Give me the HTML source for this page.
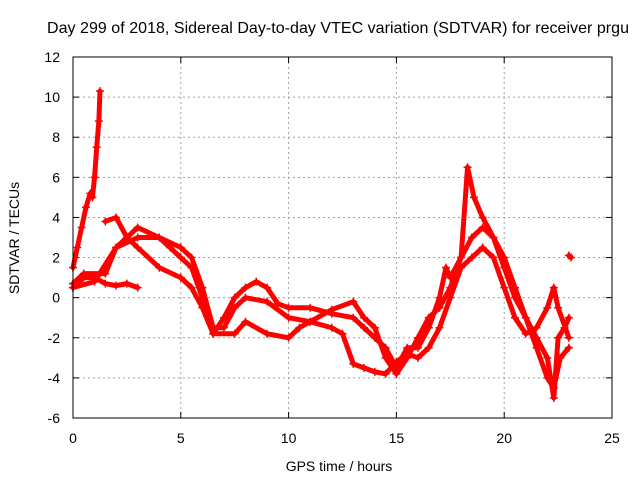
<!DOCTYPE html>
<html><head><meta charset="utf-8"><style>
body{margin:0;background:#fff}
svg text{font-family:"Liberation Sans",sans-serif;font-size:14px;fill:#000}
</style></head><body>
<svg id="chart" width="640" height="480" xmlns="http://www.w3.org/2000/svg">
<text x="338" y="33" text-anchor="middle" style="font-size:16px" textLength="582">Day 299 of 2018, Sidereal Day-to-day VTEC variation (SDTVAR) for receiver prgu</text>
<text x="339" y="471" text-anchor="middle">GPS time / hours</text>
<text transform="translate(19,238) rotate(-90)" text-anchor="middle">SDTVAR / TECUs</text>
<g id="grid"></g>
<g id="ticks"></g>
<g id="series"></g>
<rect x="73" y="57" width="539" height="361" fill="none" stroke="#000"/>
</svg>
<script>
const xTicks=[0,5,10,15,20,25];
const yTicks=[-6,-4,-2,0,2,4,6,8,10,12];
const trackA_t=[0,0.2,0.4,0.6,0.8,0.9,1.0,1.1,1.2,1.25];
const trackA_y=[1.5,2.5,3.5,4.5,5.2,5.0,6.0,7.5,8.8,10.3];
const trackB_t=[0,0.5,1.5,2,3,4,4.5,5,5.5,6,6.5,7,7.5,8,8.5,9,9.5,10,11,12,13,13.5,14,14.5,15,15.5,16,16.5,17,17.3,17.5,18,18.5,19,19.5,20,20.5,21,21.5,22,22.3,22.5,22.8,23];
const trackB_y=[0.7,1.2,1.2,2.5,3,3,2.5,2,1.5,0,-1.8,-1,0,0.5,0.8,0.5,-0.3,-0.5,-0.5,-0.8,-1,-1.5,-2,-2.5,-3.5,-2.5,-2.5,-1.5,0,1.5,1,2,3,3.5,3,1.5,0,-1,-2,-3,-5,-2,-1.5,-1];
const trackC_t=[0,1,2,3,4,5,5.5,6,6.5,7,7.5,8,9,10,11,12,13,13.5,14,14.5,15,15.5,16,16.5,17,17.5,18,18.3,18.6,19,19.5,20,20.5,21,21.5,22,22.3,22.6,23];
const trackC_y=[0.5,0.8,2.5,3.5,3,2.5,2,0.5,-1.5,-1.5,-0.5,0,-0.2,-1,-1.2,-0.6,-0.2,-1,-1.5,-3,-3.8,-3,-2,-1,-0.5,0.5,2,6.5,5,4,3,2,0.5,-1,-2.5,-4,-4.5,-3,-2.5];
const trackD_t=[1.5,2,2.5,3,4,5,5.5,6,6.5,7.5,8,9,10,10.5,11,12,12.5,13,13.5,14,14.5,15,15.5,16,16.5,17,17.5,18,18.5,19,19.5,20,20.5,21,21.5,22,22.3,22.5,23];
const trackD_y=[3.8,4,3,2.5,1.5,1,0.5,-0.5,-1.8,-1.8,-1.2,-1.8,-2,-1.5,-1.2,-1.5,-1.8,-3.3,-3.5,-3.7,-3.8,-3.2,-2.8,-3,-2.5,-1.5,0,1.5,2,2.5,2,0.5,-1,-1.8,-1.5,-0.5,0.5,-0.5,-2];
const trackE_t=[0,0.5,1,1.5,2,2.5,3];
const trackE_y=[0.5,1,1,0.7,0.6,0.7,0.5];
const trackF_t=[23,23.1];
const trackF_y=[2.1,2.0];
const NS="http://www.w3.org/2000/svg";
const X=t=>73+t*539/25, Y=v=>418-(v+6)*361/18;
const grid=document.getElementById('grid'),ticks=document.getElementById('ticks'),ser=document.getElementById('series');
function mk(tag,attrs,parent){const e=document.createElementNS(NS,tag);for(const k in attrs)e.setAttribute(k,attrs[k]);parent.appendChild(e);return e;}
xTicks.forEach(t=>{
 if(t>0&&t<25){const g=mk('line',{x1:X(t),x2:X(t),y1:57,y2:418,stroke:'#a0a0a0','stroke-dasharray':'2,3'},grid);
 
 }
 const l=mk('text',{x:X(t),y:443,'text-anchor':'middle'},ticks);l.textContent=t;
 
 
 mk('line',{x1:X(t),x2:X(t),y1:418,y2:412,stroke:'#000'},ticks);
 mk('line',{x1:X(t),x2:X(t),y1:57,y2:63,stroke:'#000'},ticks);
});
yTicks.forEach(v=>{
 if(v>-6&&v<12){const g=mk('line',{x1:73,x2:612,y1:Y(v),y2:Y(v),stroke:'#a0a0a0','stroke-dasharray':'2,3'},grid);
 
 }
 const l=mk('text',{x:60,y:Y(v)+5,'text-anchor':'end'},ticks);l.textContent=v;
 
 
 mk('line',{x1:73,x2:79,y1:Y(v),y2:Y(v),stroke:'#000'},ticks);
 mk('line',{x1:612,x2:606,y1:Y(v),y2:Y(v),stroke:'#000'},ticks);
});
[[trackA_t,trackA_y],[trackB_t,trackB_y],[trackC_t,trackC_y],[trackD_t,trackD_y],[trackE_t,trackE_y],[trackF_t,trackF_y]].forEach(([ts,ys],i)=>{
 const pts=ts.map((t,j)=>X(t)+','+Y(ys[j])).join(' ');
 const pl=mk('polyline',{points:pts,fill:'none',stroke:'#ff0000','stroke-width':5,'stroke-linejoin':'round','stroke-linecap':'round'},ser);
 
 
 ts.forEach((t,j)=>{
  const p=mk('path',{d:`M${X(t)-4},${Y(ys[j])}h8M${X(t)},${Y(ys[j])-4}v8`,stroke:'#ff0000','stroke-width':1.5},ser);
  
  
 });
});
</script>
</body></html>
